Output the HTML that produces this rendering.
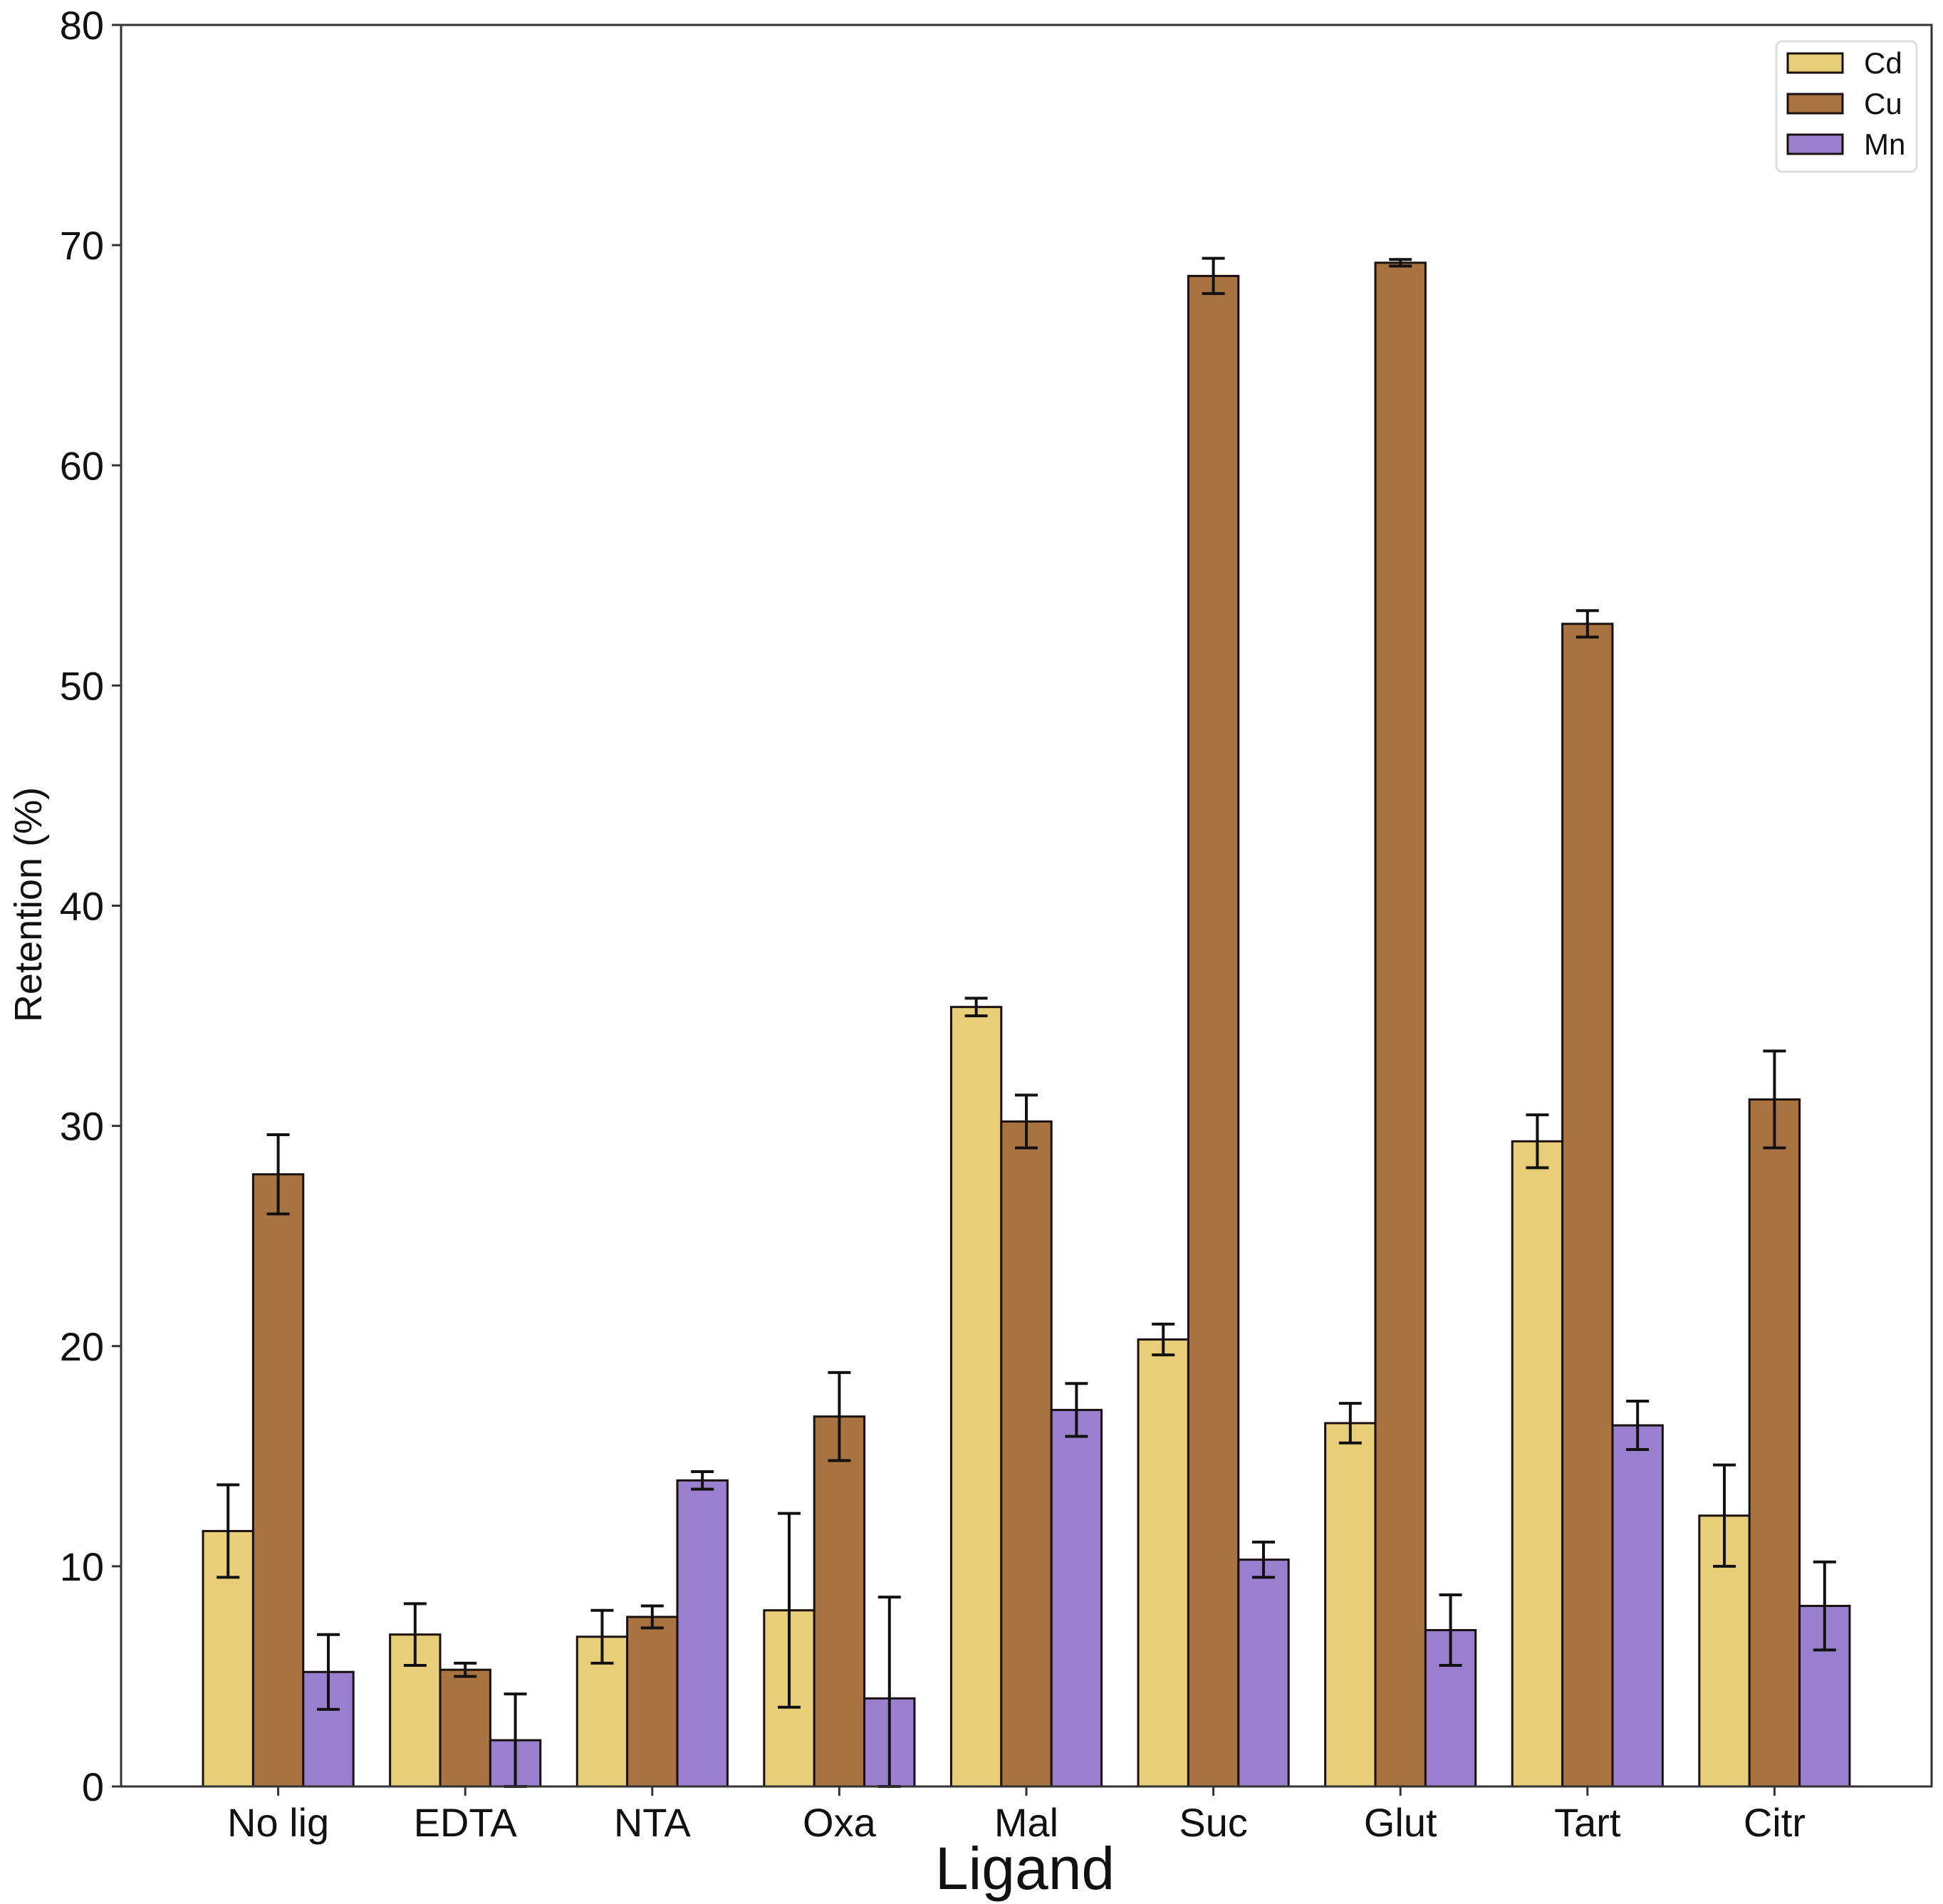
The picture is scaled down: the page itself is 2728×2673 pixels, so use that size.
<!DOCTYPE html>
<html><head><meta charset="utf-8"><style>body{margin:0;background:#fff}svg{display:block}text{font-family:"Liberation Sans","DejaVu Sans",sans-serif;fill:#111}</style></head>
<body>
<svg id="chart" width="2728" height="2673" viewBox="0 0 2728 2673" xmlns="http://www.w3.org/2000/svg"></svg>
<script>
const categories = ["No lig","EDTA","NTA","Oxa","Mal","Suc","Glut","Tart","Citr"];
const seriesNames = ["Cd","Cu","Mn"];
const cdValues = [11.6,6.9,6.8,8.0,35.4,20.3,16.5,29.3,12.3];
const cdErrors = [2.1,1.4,1.2,4.4,0.4,0.7,0.9,1.2,2.3];
const cuValues = [27.8,5.3,7.7,16.8,30.2,68.6,69.2,52.8,31.2];
const cuErrors = [1.8,0.3,0.5,2.0,1.2,0.8,0.15,0.6,2.2];
const mnValues = [5.2,2.1,13.9,4.0,17.1,10.3,7.1,16.4,8.2];
const mnErrors = [1.7,2.1,0.4,4.6,1.2,0.8,1.6,1.1,2.0];
const yTicks = [0,10,20,30,40,50,60,70,80];

const NS="http://www.w3.org/2000/svg";
const svg=document.getElementById('chart');
const L=170,R=2712,T=35,B=2508;
const xmin=-0.84,xmax=8.84,ymax=80;
const xs=v=>L+(v-xmin)/(xmax-xmin)*(R-L);
const ys=v=>B-v/ymax*(B-T);
const unit=(R-L)/(xmax-xmin);
const bw=0.268*unit;
function mk(tag,attrs,parent){const e=document.createElementNS(NS,tag);for(const k in attrs)e.setAttribute(k,attrs[k]);(parent||svg).appendChild(e);return e;}
const colors=["#e8ce78","#a87340","#9a7fcf"];
const vals=[cdValues,cuValues,mnValues],errs=[cdErrors,cuErrors,mnErrors];
for(let s=0;s<3;s++){
  const g=mk('g',{});
  
  
  categories.forEach((c,i)=>{
    const cx=xs(i)+(s-1)*bw;
    const r=mk('rect',{x:cx-bw/2,y:ys(vals[s][i]),width:bw,height:ys(0)-ys(vals[s][i]),fill:colors[s],stroke:'#1a1010','stroke-width':3},g);
    
    
  });
}
for(let s=0;s<3;s++){
  categories.forEach((c,i)=>{
    const cx=xs(i)+(s-1)*bw;
    const lo=ys(Math.max(0,vals[s][i]-errs[s][i])),hi=ys(vals[s][i]+errs[s][i]);
    const g=mk('g',{stroke:'#111','stroke-width':4});
    
    
    mk('line',{x1:cx,x2:cx,y1:lo,y2:hi},g);
    mk('line',{x1:cx-16,x2:cx+16,y1:lo,y2:lo},g);
    mk('line',{x1:cx-16,x2:cx+16,y1:hi,y2:hi},g);
  });
}
const fr=mk('rect',{x:L,y:T,width:R-L,height:B-T,fill:'none',stroke:'#333','stroke-width':3});


yTicks.forEach(v=>{
  mk('line',{x1:L-13,x2:L,y1:ys(v),y2:ys(v),stroke:'#333','stroke-width':3});
  const t=mk('text',{x:L-24,y:ys(v)+20,'text-anchor':'end','font-size':56});
  t.textContent=v;
  
  
});
categories.forEach((c,i)=>{
  mk('line',{x1:xs(i),x2:xs(i),y1:B,y2:B+13,stroke:'#333','stroke-width':3});
  const t=mk('text',{x:xs(i),y:B+70,'text-anchor':'middle','font-size':56});
  t.textContent=c;
  
  
});
const xl=mk('text',{x:(L+R)/2-2,y:2652,'text-anchor':'middle','font-size':84});
xl.textContent='Ligand';


const yl=mk('text',{x:0,y:0,'text-anchor':'middle','font-size':54,transform:'translate(58 1270) rotate(-90)'});
yl.textContent='Retention (%)';


const lg=mk('g',{});


mk('rect',{x:2494,y:58,width:197,height:183,rx:8,fill:'#fff',stroke:'#ddd','stroke-width':3},lg);
seriesNames.forEach((n,s)=>{
  const y=88+s*57;
  const p=mk('rect',{x:2510,y:y-13,width:77,height:27,fill:colors[s],stroke:'#1a1010','stroke-width':3},lg);
  
  
  const t=mk('text',{x:2617,y:y+15,'font-size':42},lg);
  t.textContent=n;
  
  
});
</script>
</body></html>
